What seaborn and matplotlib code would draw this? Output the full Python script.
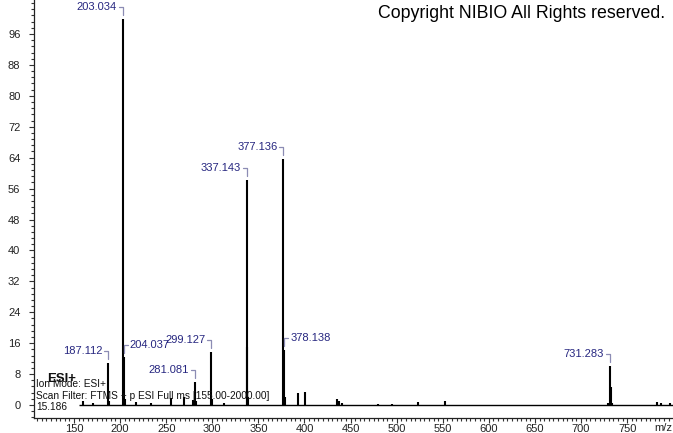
import numpy as np
import pandas as pd
import matplotlib
matplotlib.use("Agg")
import matplotlib.pyplot as plt
from matplotlib.ticker import MultipleLocator
import seaborn as sns

# peak list (m/z, relative abundance)
mz = [160.1, 171.0, 187.112, 188.1, 203.034, 204.037, 205.0, 217.1, 233.0,
      255.1, 269.1, 279.1, 281.081, 282.1, 299.127, 300.1, 313.1, 337.143,
      338.146, 339.1, 377.136, 378.138, 379.1, 393.0, 400.5, 435.1, 437.1,
      441.0, 480.0, 495.0, 523.2, 552.0, 729.3, 731.283, 732.286, 733.3,
      782.0, 787.0, 796.0]
intensity = [1.0, 0.6, 10.9, 1.0, 100.0, 12.4, 1.5, 0.8, 0.6,
             1.8, 2.0, 1.4, 6.0, 1.0, 13.7, 1.5, 0.6, 58.2,
             15.0, 2.0, 63.6, 14.3, 2.0, 3.0, 3.4, 1.5, 1.0,
             0.5, 0.3, 0.3, 0.8, 1.0, 0.5, 10.1, 4.6, 0.5,
             0.8, 0.5, 0.5]

# labelled peaks and on which side the label sits
label_mz = [203.034, 377.136, 337.143, 299.127, 187.112, 281.081, 731.283, 204.037, 378.138]
label_side = ["left", "left", "left", "left", "left", "left", "left", "right", "right"]

y_ticks = list(range(0, 97, 8))
x_ticks = list(range(150, 751, 50))

df = pd.DataFrame({"mz": mz, "intensity": intensity})

sns.set_style("ticks")
plt.rcParams["font.family"] = ["Liberation Sans", "DejaVu Sans"]

W, H = 673, 433
fig = plt.figure(figsize=(W / 100, H / 100), dpi=100)
ax = fig.add_axes([34 / W, 15 / H, 639 / W, 418 / H])

# baseline + sticks
ax.hlines(0, 155, 800, color="black", lw=1.0)
ax.vlines(df["mz"], 0, df["intensity"], color="black", lw=1.5)

ax.set_xlim(106.6, 799.7)
ax.set_ylim(-3.36, 104.8)
ax.set_xticks(x_ticks)
ax.set_yticks(y_ticks)
ax.xaxis.set_minor_locator(MultipleLocator(5))
ax.yaxis.set_minor_locator(MultipleLocator(1.6))
ax.tick_params(axis="both", which="major", length=3.8, width=0.8, labelsize=8,
               labelcolor="#222222", color="#333333")
ax.tick_params(axis="both", which="minor", length=2.2, width=0.8, color="#333333")
ax.tick_params(axis="x", pad=0.5)
ax.tick_params(axis="y", pad=6)
sns.despine(ax=ax)
for s in ["left", "bottom"]:
    ax.spines[s].set_linewidth(0.9)
    ax.spines[s].set_color("#222222")


def shift(m, h, dx, dy):
    # move a data point by dx, dy screen pixels
    X, Y = ax.transData.transform((m, h))
    return ax.transData.inverted().transform((X + dx, Y + dy))


# peak labels with bracket connectors
for m, side in zip(label_mz, label_side):
    h = df.loc[df["mz"] == m, "intensity"].iloc[0]
    sgn = -1 if side == "left" else 1
    pts = [shift(m, h, 0, 4), shift(m, h, 0, 12), shift(m, h, sgn * 4, 12)]
    ax.plot([p[0] for p in pts], [p[1] for p in pts], color="#8c8cb4", lw=0.9)
    tx, ty = shift(m, h, sgn * 6, 12)
    ax.text(tx, ty, f"{m:.3f}", ha="right" if side == "left" else "left",
            va="center", fontsize=8, color="#262680")

# header / info text
fig.text(665 / W, 1 - 14 / H, "Copyright NIBIO All Rights reserved.", ha="right",
         va="center", fontsize=12.8, color="black")
fig.text(47 / W, 1 - 379 / H, "ESI+", ha="left", va="center", fontsize=9.5,
         fontweight="bold", color="#111111")
fig.text(36 / W, 1 - 384 / H, "Ion Mode: ESI+", ha="left", va="center", fontsize=7.3,
         color="#111111")
fig.text(36 / W, 1 - 396 / H, "Scan Filter: FTMS + p ESI Full ms [155.00-2000.00]",
         ha="left", va="center", fontsize=7.3, color="#111111")
fig.text(36 / W, 1 - 407 / H, "15.186", ha="left", va="center", fontsize=7.3,
         color="#111111")
fig.text(663 / W, 1 - 428 / H, "m/z", ha="center", va="center", fontsize=8,
         color="#222222")

fig.savefig("out.png", dpi=100)
